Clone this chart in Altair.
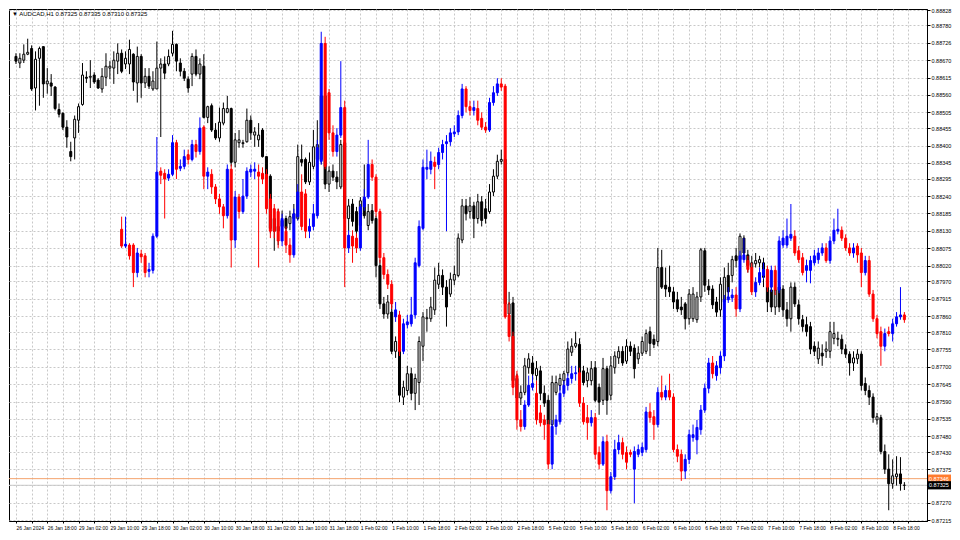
import json
import altair as alt
import pandas as pd

symbol_title = "\u25bc AUDCAD,H1  0.87325 0.87335 0.87310 0.87325"

time_labels = ["26 Jan 2024", "26 Jan 18:00", "29 Jan 02:00", "29 Jan 10:00", "29 Jan 18:00",
               "30 Jan 02:00", "30 Jan 10:00", "30 Jan 18:00", "31 Jan 02:00", "31 Jan 10:00",
               "31 Jan 18:00", "1 Feb 02:00", "1 Feb 10:00", "1 Feb 18:00", "2 Feb 02:00",
               "2 Feb 10:00", "2 Feb 18:00", "5 Feb 02:00", "5 Feb 10:00", "5 Feb 18:00",
               "6 Feb 02:00", "6 Feb 10:00", "6 Feb 18:00", "7 Feb 02:00", "7 Feb 10:00",
               "7 Feb 18:00", "8 Feb 02:00", "8 Feb 10:00", "8 Feb 18:00"]

price_ticks = [0.88828, 0.88780, 0.88726, 0.88670, 0.88615, 0.88560, 0.88505, 0.88455,
               0.88400, 0.88345, 0.88295, 0.88240, 0.88185, 0.88130, 0.88075, 0.88020,
               0.87970, 0.87915, 0.87860, 0.87810, 0.87755, 0.87700, 0.87645, 0.87590,
               0.87535, 0.87480, 0.87430, 0.87375, 0.87325, 0.87270, 0.87215]

ask_price = 0.87346
bid_price = 0.87325

# AUDCAD H1 candles (bar 0 .. 227)
main_open = [
    0.88682, 0.88661, 0.88670, 0.88689, 0.88707, 0.88582, 0.88676, 0.88713, 0.88595, 0.88598,
    0.88585, 0.88514, 0.88502, 0.88458, 0.88381, 0.88424, 0.88480, 0.88530, 0.88616, 0.88616,
    0.88623, 0.88607, 0.88579, 0.88616, 0.88645, 0.88645, 0.88667, 0.88692, 0.88658, 0.88658,
    0.88689, 0.88598, 0.88682, 0.88598, 0.88619, 0.88579, 0.88579, 0.88645, 0.88658, 0.88658,
    0.88692, 0.88720, 0.88661, 0.88635, 0.88610, 0.88626, 0.88682, 0.88626, 0.88651, 0.88489,
    0.88526, 0.88449, 0.88424, 0.88471, 0.88505, 0.88517, 0.88347, 0.88409, 0.88406, 0.88412,
    0.88480, 0.88433, 0.88418, 0.88449, 0.88365, 0.88303, 0.88169, 0.88129, 0.88144, 0.88169,
    0.88153, 0.88169, 0.88169, 0.88356, 0.88356, 0.88285, 0.88334, 0.88356, 0.88356, 0.88557,
    0.88278, 0.88319, 0.88300, 0.88269, 0.88409, 0.88169, 0.88215, 0.88191, 0.88147, 0.88231,
    0.88147, 0.88194, 0.88169, 0.88020, 0.87899, 0.87867, 0.87873, 0.87749, 0.87765, 0.87604,
    0.87625, 0.87678, 0.87616, 0.87650, 0.87765, 0.87852, 0.87852, 0.87880, 0.87961, 0.87989,
    0.87952, 0.87930, 0.87974, 0.87989, 0.88101, 0.88209, 0.88191, 0.88209, 0.88169, 0.88222,
    0.88200, 0.88191, 0.88253, 0.88303, 0.88350, 0.88356, 0.87867, 0.87902, 0.87663, 0.87601,
    0.87619, 0.87697, 0.87712, 0.87672, 0.87687, 0.87616, 0.87594, 0.87517, 0.87619, 0.87641,
    0.87656, 0.87681, 0.87746, 0.87765, 0.87771, 0.87687, 0.87656, 0.87656, 0.87697, 0.87635,
    0.87594, 0.87694, 0.87610, 0.87697, 0.87728, 0.87749, 0.87718, 0.87765, 0.87759, 0.87725,
    0.87743, 0.87749, 0.87811, 0.87787, 0.87780, 0.88014, 0.87958, 0.87952, 0.87937, 0.87912,
    0.87889, 0.87899, 0.87852, 0.87852, 0.87849, 0.87921, 0.88067, 0.87955, 0.87946, 0.87905,
    0.87880, 0.87905, 0.87989, 0.87989, 0.88051, 0.88039, 0.88107, 0.88054, 0.88014, 0.88026,
    0.88029, 0.88029, 0.87952, 0.87943, 0.87889, 0.87952, 0.87946, 0.87880, 0.87852, 0.87952,
    0.87896, 0.87849, 0.87833, 0.87827, 0.87765, 0.87725, 0.87743, 0.87749, 0.87749, 0.87790,
    0.87787, 0.87787, 0.87756, 0.87740, 0.87712, 0.87725, 0.87740, 0.87647, 0.87625, 0.87604,
    0.87532, 0.87539, 0.87432, 0.87376, 0.87330, 0.87352, 0.87361, 0.87325]

main_high = [
    0.88692, 0.88692, 0.88720, 0.88738, 0.88717, 0.88698, 0.88713, 0.88713, 0.88645, 0.88626,
    0.88588, 0.88533, 0.88505, 0.88480, 0.88412, 0.88495, 0.88533, 0.88661, 0.88635, 0.88670,
    0.88632, 0.88613, 0.88645, 0.88692, 0.88667, 0.88698, 0.88723, 0.88704, 0.88698, 0.88735,
    0.88692, 0.88713, 0.88689, 0.88645, 0.88645, 0.88635, 0.88729, 0.88676, 0.88682, 0.88704,
    0.88763, 0.88723, 0.88676, 0.88645, 0.88619, 0.88692, 0.88704, 0.88676, 0.88689, 0.88526,
    0.88533, 0.88471, 0.88520, 0.88536, 0.88557, 0.88520, 0.88440, 0.88449, 0.88418, 0.88517,
    0.88495, 0.88458, 0.88471, 0.88455, 0.88365, 0.88309, 0.88200, 0.88200, 0.88194, 0.88178,
    0.88194, 0.88215, 0.88403, 0.88403, 0.88362, 0.88378, 0.88449, 0.88480, 0.88635, 0.88588,
    0.88334, 0.88340, 0.88319, 0.88418, 0.88424, 0.88231, 0.88231, 0.88206, 0.88237, 0.88340,
    0.88215, 0.88215, 0.88178, 0.88039, 0.87921, 0.87927, 0.87912, 0.87796, 0.87780, 0.87656,
    0.87703, 0.87697, 0.87678, 0.87796, 0.87873, 0.87883, 0.87921, 0.88014, 0.88029, 0.88008,
    0.87974, 0.87998, 0.88020, 0.88122, 0.88231, 0.88231, 0.88237, 0.88222, 0.88247, 0.88240,
    0.88231, 0.88278, 0.88325, 0.88371, 0.88387, 0.88371, 0.87937, 0.87921, 0.87678, 0.87641,
    0.87728, 0.87743, 0.87734, 0.87718, 0.87703, 0.87641, 0.87610, 0.87672, 0.87672, 0.87678,
    0.87687, 0.87780, 0.87790, 0.87811, 0.87790, 0.87703, 0.87697, 0.87718, 0.87718, 0.87647,
    0.87728, 0.87703, 0.87734, 0.87749, 0.87765, 0.87765, 0.87787, 0.87780, 0.87771, 0.87765,
    0.87796, 0.87818, 0.87827, 0.87802, 0.88076, 0.88070, 0.88014, 0.88020, 0.87952, 0.87937,
    0.87921, 0.87905, 0.87946, 0.87952, 0.87937, 0.88076, 0.88076, 0.87977, 0.87958, 0.87921,
    0.87983, 0.88014, 0.88029, 0.88051, 0.88076, 0.88122, 0.88116, 0.88070, 0.88051, 0.88060,
    0.88051, 0.88045, 0.87983, 0.87967, 0.87958, 0.87967, 0.87958, 0.87905, 0.87967, 0.87967,
    0.87912, 0.87864, 0.87858, 0.87842, 0.87780, 0.87780, 0.87771, 0.87780, 0.87842, 0.87842,
    0.87811, 0.87802, 0.87771, 0.87749, 0.87749, 0.87756, 0.87749, 0.87666, 0.87641, 0.87616,
    0.87554, 0.87548, 0.87454, 0.87423, 0.87407, 0.87417, 0.87414, 0.87335]

main_low = [
    0.88658, 0.88645, 0.88661, 0.88686, 0.88573, 0.88511, 0.88526, 0.88551, 0.88564, 0.88557,
    0.88511, 0.88489, 0.88449, 0.88393, 0.88350, 0.88356, 0.88440, 0.88526, 0.88598, 0.88582,
    0.88595, 0.88579, 0.88567, 0.88588, 0.88610, 0.88595, 0.88626, 0.88629, 0.88642, 0.88626,
    0.88573, 0.88536, 0.88551, 0.88582, 0.88579, 0.88573, 0.88579, 0.88427, 0.88610, 0.88651,
    0.88682, 0.88635, 0.88619, 0.88604, 0.88567, 0.88588, 0.88619, 0.88610, 0.88486, 0.88471,
    0.88443, 0.88418, 0.88412, 0.88464, 0.88502, 0.88334, 0.88331, 0.88393, 0.88393, 0.88409,
    0.88418, 0.88396, 0.88396, 0.88362, 0.88240, 0.88122, 0.88067, 0.88085, 0.88122, 0.88129,
    0.88132, 0.88153, 0.88163, 0.88334, 0.88278, 0.88275, 0.88325, 0.88340, 0.88340, 0.88262,
    0.88253, 0.88288, 0.88262, 0.88262, 0.88153, 0.88129, 0.88144, 0.88113, 0.88132, 0.88169,
    0.88132, 0.88153, 0.87983, 0.87883, 0.87852, 0.87852, 0.87740, 0.87728, 0.87588, 0.87579,
    0.87610, 0.87594, 0.87563, 0.87579, 0.87718, 0.87811, 0.87842, 0.87864, 0.87946, 0.87927,
    0.87827, 0.87921, 0.87958, 0.87983, 0.88091, 0.88163, 0.88169, 0.88107, 0.88153, 0.88144,
    0.88153, 0.88184, 0.88240, 0.88294, 0.88340, 0.87889, 0.87858, 0.87641, 0.87579, 0.87579,
    0.87610, 0.87678, 0.87656, 0.87656, 0.87594, 0.87573, 0.87469, 0.87485, 0.87610, 0.87625,
    0.87641, 0.87672, 0.87734, 0.87759, 0.87672, 0.87641, 0.87635, 0.87641, 0.87588, 0.87548,
    0.87579, 0.87548, 0.87594, 0.87678, 0.87709, 0.87703, 0.87709, 0.87734, 0.87663, 0.87709,
    0.87734, 0.87740, 0.87734, 0.87759, 0.87765, 0.87946, 0.87921, 0.87921, 0.87883, 0.87873,
    0.87864, 0.87818, 0.87833, 0.87842, 0.87839, 0.87905, 0.87937, 0.87927, 0.87883, 0.87858,
    0.87858, 0.87889, 0.87921, 0.87967, 0.88014, 0.88029, 0.88045, 0.87998, 0.87989, 0.88014,
    0.88014, 0.87952, 0.87873, 0.87873, 0.87864, 0.87873, 0.87858, 0.87827, 0.87811, 0.87889,
    0.87833, 0.87811, 0.87796, 0.87740, 0.87734, 0.87709, 0.87703, 0.87728, 0.87728, 0.87771,
    0.87765, 0.87740, 0.87728, 0.87672, 0.87687, 0.87709, 0.87625, 0.87610, 0.87579, 0.87523,
    0.87517, 0.87423, 0.87361, 0.87246, 0.87314, 0.87324, 0.87308, 0.87310]

main_close = [
    0.88667, 0.88676, 0.88689, 0.88695, 0.88579, 0.88673, 0.88707, 0.88595, 0.88604, 0.88588,
    0.88517, 0.88499, 0.88458, 0.88427, 0.88365, 0.88483, 0.88523, 0.88623, 0.88613, 0.88619,
    0.88601, 0.88582, 0.88619, 0.88651, 0.88651, 0.88670, 0.88692, 0.88635, 0.88676, 0.88704,
    0.88601, 0.88682, 0.88598, 0.88619, 0.88588, 0.88604, 0.88645, 0.88658, 0.88629, 0.88682,
    0.88720, 0.88667, 0.88635, 0.88613, 0.88582, 0.88682, 0.88626, 0.88658, 0.88489, 0.88523,
    0.88449, 0.88424, 0.88474, 0.88517, 0.88517, 0.88347, 0.88418, 0.88418, 0.88409, 0.88480,
    0.88440, 0.88443, 0.88433, 0.88365, 0.88294, 0.88138, 0.88129, 0.88144, 0.88163, 0.88138,
    0.88175, 0.88184, 0.88365, 0.88347, 0.88285, 0.88347, 0.88396, 0.88403, 0.88557, 0.88278,
    0.88319, 0.88300, 0.88285, 0.88403, 0.88169, 0.88209, 0.88160, 0.88129, 0.88225, 0.88178,
    0.88191, 0.88163, 0.88020, 0.87899, 0.87867, 0.87905, 0.87749, 0.87780, 0.87610, 0.87635,
    0.87678, 0.87616, 0.87663, 0.87780, 0.87858, 0.87855, 0.87889, 0.87974, 0.87989, 0.87952,
    0.87889, 0.87977, 0.87992, 0.88107, 0.88209, 0.88184, 0.88209, 0.88169, 0.88222, 0.88163,
    0.88169, 0.88253, 0.88303, 0.88350, 0.88356, 0.87899, 0.87899, 0.87656, 0.87601, 0.87619,
    0.87703, 0.87725, 0.87678, 0.87694, 0.87616, 0.87585, 0.87517, 0.87650, 0.87650, 0.87663,
    0.87678, 0.87756, 0.87765, 0.87774, 0.87681, 0.87650, 0.87681, 0.87694, 0.87594, 0.87588,
    0.87694, 0.87594, 0.87703, 0.87734, 0.87749, 0.87712, 0.87765, 0.87749, 0.87694, 0.87743,
    0.87780, 0.87805, 0.87774, 0.87771, 0.88014, 0.87952, 0.87946, 0.87937, 0.87905, 0.87883,
    0.87880, 0.87852, 0.87930, 0.87930, 0.87921, 0.88070, 0.87958, 0.87943, 0.87896, 0.87873,
    0.87961, 0.87983, 0.87937, 0.88039, 0.88036, 0.88113, 0.88060, 0.88020, 0.88029, 0.88036,
    0.88039, 0.87983, 0.87905, 0.87889, 0.87943, 0.87889, 0.87880, 0.87852, 0.87952, 0.87899,
    0.87852, 0.87827, 0.87811, 0.87756, 0.87749, 0.87759, 0.87734, 0.87756, 0.87811, 0.87805,
    0.87790, 0.87756, 0.87740, 0.87712, 0.87728, 0.87740, 0.87641, 0.87625, 0.87604, 0.87539,
    0.87542, 0.87432, 0.87376, 0.87330, 0.87355, 0.87361, 0.87330, 0.87325]

# overlay candles (red / blue), bars 27 .. 227
overlay_first_bar = 27
ovl_open = [
    0.88135, 0.88082, 0.88085, 0.88085, 0.87998, 0.88057, 0.88051, 0.88002, 0.88005, 0.88113,
    0.88319, 0.88312, 0.88297, 0.88309, 0.88409, 0.88328, 0.88334, 0.88371, 0.88356, 0.88403,
    0.88381, 0.88458, 0.88303, 0.88309, 0.88269, 0.88231, 0.88206, 0.88178, 0.88325, 0.88101,
    0.88237, 0.88191, 0.88240, 0.88316, 0.88319, 0.88316, 0.88312, 0.88309, 0.88231, 0.88200,
    0.88191, 0.88098, 0.88129, 0.88085, 0.88054, 0.88175, 0.88253, 0.88247, 0.88129, 0.88144,
    0.88178, 0.88350, 0.88723, 0.88567, 0.88440, 0.88381, 0.88433, 0.88520, 0.88076, 0.88113,
    0.88107, 0.88076, 0.88206, 0.88237, 0.88340, 0.88300, 0.88191, 0.88045, 0.87992, 0.87961,
    0.87858, 0.87864, 0.87749, 0.87833, 0.87836, 0.87864, 0.88020, 0.88138, 0.88325, 0.88325,
    0.88347, 0.88340, 0.88378, 0.88406, 0.88412, 0.88437, 0.88443, 0.88495, 0.88579, 0.88523,
    0.88511, 0.88517, 0.88486, 0.88458, 0.88449, 0.88536, 0.88567, 0.88595, 0.88588, 0.87864,
    0.87796, 0.87672, 0.87532, 0.87511, 0.87579, 0.87635, 0.87616, 0.87554, 0.87532, 0.87517,
    0.87392, 0.87511, 0.87526, 0.87616, 0.87641, 0.87663, 0.87678, 0.87681, 0.87585, 0.87539,
    0.87523, 0.87539, 0.87429, 0.87392, 0.87463, 0.87308, 0.87352, 0.87438, 0.87460, 0.87429,
    0.87429, 0.87376, 0.87423, 0.87429, 0.87438, 0.87557, 0.87542, 0.87517, 0.87619, 0.87604,
    0.87625, 0.87604, 0.87438, 0.87423, 0.87370, 0.87407, 0.87476, 0.87469, 0.87501, 0.87563,
    0.87632, 0.87712, 0.87672, 0.87697, 0.87734, 0.87912, 0.87918, 0.87927, 0.87883, 0.88039,
    0.88036, 0.88014, 0.87937, 0.87967, 0.87989, 0.88008, 0.87952, 0.88005, 0.87943, 0.88085,
    0.88085, 0.88107, 0.88113, 0.88067, 0.88045, 0.88005, 0.88005, 0.88029, 0.88039, 0.88060,
    0.88076, 0.88036, 0.88098, 0.88129, 0.88132, 0.88107, 0.88076, 0.88060, 0.88082, 0.88060,
    0.87998, 0.88036, 0.87930, 0.87852, 0.87811, 0.87765, 0.87811, 0.87805, 0.87836, 0.87858,
    0.87864]

ovl_high = [
    0.88175, 0.88175, 0.88091, 0.88091, 0.88076, 0.88070, 0.88060, 0.88029, 0.88122, 0.88427,
    0.88331, 0.88325, 0.88325, 0.88433, 0.88418, 0.88356, 0.88387, 0.88387, 0.88418, 0.88418,
    0.88489, 0.88464, 0.88331, 0.88325, 0.88278, 0.88247, 0.88215, 0.88340, 0.88340, 0.88256,
    0.88247, 0.88294, 0.88331, 0.88340, 0.88347, 0.88340, 0.88331, 0.88325, 0.88247, 0.88215,
    0.88200, 0.88184, 0.88144, 0.88107, 0.88200, 0.88278, 0.88309, 0.88262, 0.88169, 0.88215,
    0.88418, 0.88760, 0.88744, 0.88579, 0.88464, 0.88455, 0.88667, 0.88542, 0.88132, 0.88132,
    0.88122, 0.88215, 0.88262, 0.88418, 0.88356, 0.88309, 0.88200, 0.88060, 0.88008, 0.87974,
    0.87905, 0.87877, 0.87852, 0.87864, 0.87921, 0.88045, 0.88163, 0.88356, 0.88387, 0.88381,
    0.88365, 0.88393, 0.88418, 0.88433, 0.88455, 0.88464, 0.88511, 0.88595, 0.88588, 0.88542,
    0.88542, 0.88542, 0.88505, 0.88474, 0.88551, 0.88588, 0.88613, 0.88613, 0.88595, 0.87905,
    0.87811, 0.87687, 0.87563, 0.87594, 0.87672, 0.87672, 0.87656, 0.87579, 0.87548, 0.87532,
    0.87532, 0.87548, 0.87641, 0.87656, 0.87678, 0.87703, 0.87703, 0.87697, 0.87604, 0.87579,
    0.87563, 0.87554, 0.87448, 0.87479, 0.87485, 0.87367, 0.87469, 0.87485, 0.87476, 0.87448,
    0.87438, 0.87448, 0.87454, 0.87460, 0.87573, 0.87585, 0.87563, 0.87635, 0.87672, 0.87641,
    0.87678, 0.87616, 0.87454, 0.87438, 0.87423, 0.87501, 0.87517, 0.87532, 0.87579, 0.87647,
    0.87728, 0.87734, 0.87718, 0.87749, 0.87927, 0.87952, 0.87946, 0.87952, 0.88067, 0.88107,
    0.88051, 0.88029, 0.87983, 0.88014, 0.88029, 0.88020, 0.88020, 0.88020, 0.88113, 0.88132,
    0.88169, 0.88215, 0.88132, 0.88082, 0.88060, 0.88039, 0.88051, 0.88070, 0.88076, 0.88091,
    0.88091, 0.88113, 0.88169, 0.88200, 0.88144, 0.88119, 0.88091, 0.88091, 0.88091, 0.88076,
    0.88051, 0.88051, 0.87943, 0.87864, 0.87827, 0.87821, 0.87827, 0.87852, 0.87873, 0.87952,
    0.87873]

ovl_low = [
    0.88076, 0.88076, 0.88039, 0.87952, 0.87983, 0.88029, 0.87983, 0.87983, 0.87995, 0.88107,
    0.88278, 0.88169, 0.88288, 0.88303, 0.88294, 0.88319, 0.88325, 0.88340, 0.88350, 0.88362,
    0.88371, 0.88262, 0.88262, 0.88247, 0.88215, 0.88184, 0.88138, 0.88169, 0.88014, 0.88076,
    0.88169, 0.88184, 0.88231, 0.88300, 0.88294, 0.88014, 0.88278, 0.88184, 0.88107, 0.88107,
    0.88076, 0.88082, 0.88060, 0.88029, 0.88045, 0.88163, 0.88132, 0.88107, 0.88107, 0.88132,
    0.88169, 0.88340, 0.88325, 0.88418, 0.88365, 0.88365, 0.88424, 0.87952, 0.88060, 0.88029,
    0.88060, 0.88067, 0.88194, 0.88231, 0.88288, 0.88175, 0.88029, 0.87977, 0.87946, 0.87883,
    0.87842, 0.87734, 0.87740, 0.87821, 0.87827, 0.87852, 0.88014, 0.88132, 0.88294, 0.88309,
    0.88262, 0.88325, 0.88356, 0.88129, 0.88399, 0.88427, 0.88433, 0.88486, 0.88505, 0.88495,
    0.88495, 0.88464, 0.88449, 0.88440, 0.88443, 0.88526, 0.88557, 0.88573, 0.87852, 0.87780,
    0.87610, 0.87501, 0.87495, 0.87501, 0.87573, 0.87625, 0.87517, 0.87511, 0.87469, 0.87376,
    0.87376, 0.87485, 0.87517, 0.87604, 0.87625, 0.87647, 0.87656, 0.87573, 0.87517, 0.87469,
    0.87511, 0.87407, 0.87376, 0.87386, 0.87246, 0.87299, 0.87342, 0.87423, 0.87407, 0.87376,
    0.87414, 0.87268, 0.87414, 0.87417, 0.87429, 0.87523, 0.87469, 0.87508, 0.87594, 0.87594,
    0.87594, 0.87429, 0.87398, 0.87339, 0.87345, 0.87392, 0.87463, 0.87423, 0.87485, 0.87554,
    0.87616, 0.87663, 0.87656, 0.87678, 0.87718, 0.87902, 0.87905, 0.87858, 0.87873, 0.88029,
    0.87998, 0.87927, 0.87921, 0.87958, 0.87977, 0.87937, 0.87937, 0.87927, 0.87933, 0.88076,
    0.88076, 0.88098, 0.88051, 0.88029, 0.87989, 0.87967, 0.87964, 0.88020, 0.88026, 0.88051,
    0.88029, 0.88026, 0.88088, 0.88119, 0.88098, 0.88067, 0.88051, 0.88045, 0.88029, 0.87952,
    0.87989, 0.87921, 0.87842, 0.87790, 0.87703, 0.87749, 0.87796, 0.87780, 0.87827, 0.87849,
    0.87839]

ovl_close = [
    0.88082, 0.88088, 0.88051, 0.87998, 0.88060, 0.88048, 0.87998, 0.88008, 0.88113, 0.88316,
    0.88306, 0.88294, 0.88309, 0.88409, 0.88325, 0.88334, 0.88365, 0.88356, 0.88403, 0.88381,
    0.88455, 0.88303, 0.88316, 0.88269, 0.88231, 0.88206, 0.88178, 0.88325, 0.88101, 0.88237,
    0.88191, 0.88240, 0.88319, 0.88325, 0.88325, 0.88303, 0.88294, 0.88200, 0.88129, 0.88129,
    0.88098, 0.88169, 0.88085, 0.88054, 0.88184, 0.88253, 0.88144, 0.88129, 0.88144, 0.88184,
    0.88393, 0.88723, 0.88334, 0.88440, 0.88381, 0.88433, 0.88520, 0.88076, 0.88116, 0.88082,
    0.88076, 0.88206, 0.88237, 0.88340, 0.88300, 0.88191, 0.88045, 0.87992, 0.87961, 0.87899,
    0.87880, 0.87749, 0.87836, 0.87842, 0.87864, 0.88029, 0.88144, 0.88331, 0.88331, 0.88350,
    0.88334, 0.88378, 0.88403, 0.88412, 0.88440, 0.88443, 0.88495, 0.88579, 0.88523, 0.88511,
    0.88520, 0.88480, 0.88458, 0.88449, 0.88536, 0.88567, 0.88595, 0.88585, 0.87858, 0.87796,
    0.87635, 0.87532, 0.87511, 0.87579, 0.87641, 0.87647, 0.87532, 0.87523, 0.87517, 0.87392,
    0.87511, 0.87532, 0.87616, 0.87641, 0.87663, 0.87678, 0.87681, 0.87585, 0.87526, 0.87523,
    0.87539, 0.87423, 0.87392, 0.87463, 0.87308, 0.87352, 0.87438, 0.87460, 0.87423, 0.87398,
    0.87423, 0.87432, 0.87438, 0.87445, 0.87557, 0.87539, 0.87517, 0.87619, 0.87604, 0.87625,
    0.87604, 0.87438, 0.87417, 0.87370, 0.87407, 0.87485, 0.87485, 0.87508, 0.87563, 0.87632,
    0.87712, 0.87678, 0.87703, 0.87734, 0.87912, 0.87921, 0.87927, 0.87883, 0.88051, 0.88054,
    0.88008, 0.87937, 0.87967, 0.87998, 0.88008, 0.87952, 0.88005, 0.87943, 0.88098, 0.88107,
    0.88113, 0.88119, 0.88060, 0.88039, 0.87998, 0.88020, 0.88036, 0.88051, 0.88060, 0.88076,
    0.88036, 0.88098, 0.88132, 0.88135, 0.88107, 0.88076, 0.88060, 0.88076, 0.88054, 0.87998,
    0.88036, 0.87930, 0.87852, 0.87805, 0.87765, 0.87805, 0.87805, 0.87836, 0.87858, 0.87864,
    0.87849]

# ---------------------------------------------------------------- tables
main_df = pd.DataFrame({"bar": list(range(len(main_open))), "open": main_open,
                        "high": main_high, "low": main_low, "close": main_close})
n_ovl = min(len(ovl_open), len(ovl_high), len(ovl_low), len(ovl_close))
ovl_df = pd.DataFrame({"bar": list(range(overlay_first_bar, overlay_first_bar + n_ovl)),
                       "open": ovl_open[:n_ovl], "high": ovl_high[:n_ovl],
                       "low": ovl_low[:n_ovl], "close": ovl_close[:n_ovl]})
lines_df = pd.DataFrame({"price": [ask_price, bid_price],
                         "color": ["#f4a46e", "#c8c8c8"]})
tags_df = pd.DataFrame({"price": [ask_price, bid_price],
                        "label": [f"{ask_price:.5f}", f"{bid_price:.5f}"],
                        "fill": ["#ff7b2e", "#000000"]})
title_df = pd.DataFrame({"t": [symbol_title]})

FONT = "Liberation Sans"
W, H = 918, 512

x_scale = alt.Scale(domain=[-0.5, 231.5], nice=False, zero=False)
y_scale = alt.Scale(domain=[0.87212, 0.88832], nice=False, zero=False)

label_expr = ("datum.value % 8 == 0 ? " + json.dumps(time_labels) +
              "[datum.value / 8] : ''")
x_axis = alt.Axis(values=list(range(0, 229, 4)), labelExpr=label_expr, labelAlign="left",
                  labelFont=FONT, labelFontSize=5, labelColor="#000000", labelPadding=2,
                  labelOverlap=False, labelFlush=False, labelBound=False,
                  tickSize=2, tickColor="#000000", domainColor="#000000",
                  grid=True, gridColor="#c8c8c8", gridDash=[2, 2], gridWidth=1, title=None)
# the axis label at the bid price is covered by the bid tag, as in MetaTrader
y_label_expr = "abs(datum.value - %.5f) < 0.000005 ? '' : format(datum.value, '.5f')" % bid_price
y_axis = alt.Axis(orient="right", values=price_ticks, labelExpr=y_label_expr,
                  labelFont=FONT, labelFontSize=5.5, labelColor="#000000", labelPadding=1,
                  labelOverlap=False, tickSize=3, tickColor="#000000", domainColor="#000000",
                  grid=True, gridColor="#c8c8c8", gridDash=[2, 2], gridWidth=1, title=None)

X = alt.X("bar:Q", scale=x_scale, axis=x_axis, title=None)

# horizontal price lines
price_lines = alt.Chart(lines_df).mark_rule(strokeWidth=1).encode(
    y=alt.Y("price:Q", scale=y_scale, axis=y_axis, title=None),
    color=alt.Color("color:N", scale=None),
)

up_main = "datum.close >= datum.open"
main_wicks = alt.Chart(main_df).mark_rule(strokeWidth=1, color="#000000").encode(
    x=X, y=alt.Y("low:Q", scale=y_scale, axis=y_axis, title=None), y2="high:Q")
main_bodies = alt.Chart(main_df).mark_bar(size=2, strokeWidth=1, stroke="#000000").encode(
    x=X, y=alt.Y("open:Q", scale=y_scale, axis=y_axis, title=None), y2="close:Q",
    fill=alt.condition(up_main, alt.value("#ffffff"), alt.value("#000000")))

ovl_color = alt.condition(up_main, alt.value("#0000ff"), alt.value("#ff0000"))
ovl_wicks = alt.Chart(ovl_df).mark_rule(strokeWidth=1).encode(
    x=X, y=alt.Y("low:Q", scale=y_scale, axis=y_axis, title=None), y2="high:Q",
    color=ovl_color)
ovl_bodies = alt.Chart(ovl_df).mark_bar(size=2, strokeWidth=1).encode(
    x=X, y=alt.Y("open:Q", scale=y_scale, axis=y_axis, title=None), y2="close:Q",
    fill=ovl_color, stroke=ovl_color)

title_text = alt.Chart(title_df).mark_text(
    align="left", baseline="middle", font=FONT, fontSize=6, color="#000000"
).encode(x=alt.value(3), y=alt.value(5), text="t:N")

tag_boxes = alt.Chart(tags_df).transform_calculate(
    top="datum.price + 0.00013", bot="datum.price - 0.00013"
).mark_rect().encode(
    x=alt.value(W + 1), x2=alt.value(W + 24),
    y=alt.Y("top:Q", scale=y_scale, axis=y_axis, title=None), y2="bot:Q",
    fill=alt.Color("fill:N", scale=None))
tag_text = alt.Chart(tags_df).mark_text(
    align="left", baseline="middle", font=FONT, fontSize=5.5, color="#ffffff"
).encode(x=alt.value(W + 2), y=alt.Y("price:Q", scale=y_scale, axis=y_axis, title=None),
         text="label:N")

chart = alt.layer(
    price_lines, main_wicks, main_bodies, ovl_wicks, ovl_bodies, title_text, tag_boxes, tag_text
).properties(
    width=W, height=H, background="#ffffff",
    padding={"left": 0, "top": 0, "right": 1, "bottom": 0},
).configure_view(stroke="#000000", strokeWidth=1)

chart.save("out.html", embed_options={"renderer": "svg", "actions": False})
